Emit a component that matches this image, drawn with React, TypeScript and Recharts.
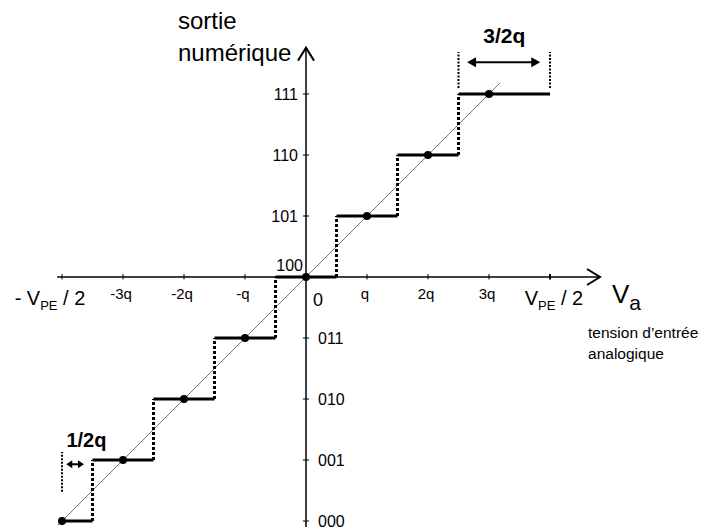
import React from 'react';
import { ComposedChart, XAxis, YAxis, ReferenceLine, Scatter } from 'recharts';

// output codes and their level (in q units, 100 sits on the origin)
const codes = ['000', '001', '010', '011', '100', '101', '110', '111'];
const levels = [-4, -3, -2, -1, 0, 1, 2, 3];
// where each code starts and stops along the input axis (q units)
const stepFrom = [-4, -3.5, -2.5, -1.5, -0.5, 0.5, 1.5, 2.5];
const stepTo = [-3.5, -2.5, -1.5, -0.5, 0.5, 1.5, 2.5, 4];
// input ticks
const xTicks = [-4, -3, -2, -1, 1, 2, 3, 4];
const xTickLabels = ['- VPE / 2', '-3q', '-2q', '-q', 'q', '2q', '3q', 'VPE / 2'];
// ideal line and axis extents
const diagonal = [-4.07, 3.18];
const axisX = [-4.08, 4.82];
const axisY = [-4.1, 3.76];
// dimension marks
const wideMark = { from: 2.5, to: 4, low: 3.1, high: 3.69, arrow: 3.52, tipL: 2.64, tipR: 3.84 };
const halfMark = { at: -4, low: -3.52, high: -2.87, arrow: -3.07, tipL: -3.93, tipR: -3.64 };

const W = 712;
const H = 523;
const Q = 61;
const OX = 298;
const OY = 269;
const XD: [number, number] = [-4.85, 6.5];
const YD: [number, number] = [-4.15, 4.4];
const margin = {
  left: OX + XD[0] * Q,
  right: W - (OX + XD[1] * Q),
  top: OY - YD[1] * Q,
  bottom: H - (OY - YD[0] * Q),
};

const FONT = '"Liberation Sans", Arial, sans-serif';

const seg = (x1: number, y1: number, x2: number, y2: number) => [
  { x: x1, y: y1 },
  { x: x2, y: y2 },
];

function YLabel(p: any) {
  const { cx, cy, payload } = p;
  if (payload.y > 0)
    return (
      <text x={cx - 8} y={cy + 6} textAnchor="end" fontSize={16} fontFamily={FONT}>
        {payload.t}
      </text>
    );
  if (payload.y === 0)
    return (
      <text x={cx - 3} y={cy - 6} textAnchor="end" fontSize={16} fontFamily={FONT}>
        {payload.t}
      </text>
    );
  return (
    <text x={cx + 12} y={cy + 6} textAnchor="start" fontSize={16} fontFamily={FONT}>
      {payload.t}
    </text>
  );
}

function XLabel(p: any) {
  const { cx, cy, payload } = p;
  if (payload.t.includes('VPE')) {
    const neg = payload.x < 0;
    return (
      <text x={cx + (neg ? -12 : 4)} y={cy + 28} textAnchor="middle" fontSize={20} fontFamily={FONT}>
        {neg ? '- V' : 'V'}
        <tspan fontSize={13} dy={5}>PE</tspan>
        <tspan dy={-5}> / 2</tspan>
      </text>
    );
  }
  return (
    <text x={cx - 2} y={cy + 22} textAnchor="middle" fontSize={15} fontFamily={FONT}>
      {payload.t}
    </text>
  );
}

function Dot(p: any) {
  return <circle cx={p.cx} cy={p.cy} r={4} fill="#000" />;
}

const openArrowRight = (p: any) => (
  <path d={`M${p.cx - 13},${p.cy - 8} L${p.cx},${p.cy} L${p.cx - 13},${p.cy + 8}`} fill="none" stroke="#000" strokeWidth={2} />
);
const openArrowUp = (p: any) => (
  <path d={`M${p.cx - 8},${p.cy + 13} L${p.cx},${p.cy} L${p.cx + 8},${p.cy + 13}`} fill="none" stroke="#000" strokeWidth={2} />
);
const headLeft = (len: number, h: number) => (p: any) => (
  <path d={`M${p.cx},${p.cy} L${p.cx + len},${p.cy - h} L${p.cx + len},${p.cy + h} Z`} fill="#000" />
);
const headRight = (len: number, h: number) => (p: any) => (
  <path d={`M${p.cx},${p.cy} L${p.cx - len},${p.cy - h} L${p.cx - len},${p.cy + h} Z`} fill="#000" />
);

function FreeText(p: any) {
  const { cx, cy, payload } = p;
  if (payload.k === 'origin')
    return (
      <text x={cx + 7} y={cy + 29} fontSize={18} fontFamily={FONT}>
        0
      </text>
    );
  if (payload.k === 'va')
    return (
      <text x={cx + 12} y={cy + 26} fontSize={26} fontFamily={FONT}>
        V<tspan fontSize={21} dy={7}>a</tspan>
      </text>
    );
  if (payload.k === 'in')
    return (
      <text x={cx - 12} y={cy + 61} fontSize={15.5} fontFamily={FONT}>
        <tspan x={cx - 12}>tension d’entrée</tspan>
        <tspan x={cx - 12} dy={21}>analogique</tspan>
      </text>
    );
  if (payload.k === 'out')
    return (
      <text x={cx - 128} y={cy - 19} fontSize={24} fontFamily={FONT}>
        <tspan x={cx - 128}>sortie</tspan>
        <tspan x={cx - 128} dy={32}>numérique</tspan>
      </text>
    );
  if (payload.k === 'wide')
    return (
      <text x={cx} y={cy - 9} textAnchor="middle" fontSize={21} fontWeight="bold" fontFamily={FONT}>
        3/2q
      </text>
    );
  return (
    <text x={cx} y={cy - 5} textAnchor="middle" fontSize={20} fontWeight="bold" fontFamily={FONT}>
      1/2q
    </text>
  );
}

export default function App() {
  const samples = levels.map((v) => ({ x: v, y: v }));
  const yLabels = levels.map((v, i) => ({ x: 0, y: v, t: codes[i] }));
  const xLabels = xTicks.map((v, i) => ({ x: v, y: 0, t: xTickLabels[i] }));
  const freeText = [
    { x: 0, y: 0, k: 'origin' },
    { x: axisX[1], y: 0, k: 'va' },
    { x: axisX[1], y: 0, k: 'in' },
    { x: 0, y: axisY[1], k: 'out' },
    { x: (wideMark.from + wideMark.to) / 2, y: wideMark.high, k: 'wide' },
    { x: -3.6, y: halfMark.high, k: 'half' },
  ];

  const common = { ifOverflow: 'visible' as const, isFront: false };

  return (
    <ComposedChart width={W} height={H} margin={margin} data={samples}>
      <XAxis type="number" dataKey="x" domain={XD} allowDataOverflow hide />
      <YAxis type="number" dataKey="y" domain={YD} allowDataOverflow hide />

      {/* axes */}
      <ReferenceLine {...common} segment={seg(axisX[0], 0, axisX[1], 0)} stroke="#000" strokeWidth={1.5} />
      <ReferenceLine {...common} segment={seg(0, axisY[0], 0, axisY[1])} stroke="#000" strokeWidth={1.5} />
      {xTicks.map((v) => (
        <ReferenceLine key={`xt${v}`} {...common} segment={seg(v, 0.05, v, -0.04)} stroke="#000" strokeWidth={v === 4 ? 2 : 1} />
      ))}
      {levels.filter((v) => v !== 0).map((v) => (
        <ReferenceLine key={`yt${v}`} {...common} segment={seg(-0.05, v, 0.05, v)} stroke="#000" strokeWidth={1} />
      ))}

      {/* ideal characteristic */}
      <ReferenceLine {...common} segment={seg(diagonal[0], diagonal[0], diagonal[1], diagonal[1])} stroke="#777" strokeWidth={1} />

      {/* staircase */}
      {levels.map((v, i) => (
        <ReferenceLine key={`h${i}`} {...common} segment={seg(stepFrom[i], v, stepTo[i], v)} stroke="#000" strokeWidth={3} />
      ))}
      {levels.slice(0, -1).map((v, i) => (
        <ReferenceLine
          key={`v${i}`}
          {...common}
          segment={seg(stepTo[i], v, stepTo[i], levels[i + 1])}
          stroke="#000"
          strokeWidth={3}
          strokeDasharray="3 2"
        />
      ))}

      {/* 3/2q mark */}
      <ReferenceLine {...common} segment={seg(wideMark.from, wideMark.low, wideMark.from, wideMark.high)} stroke="#000" strokeWidth={2} strokeDasharray="2 1.5" />
      <ReferenceLine {...common} segment={seg(wideMark.to, wideMark.low, wideMark.to, wideMark.high)} stroke="#000" strokeWidth={2} strokeDasharray="2 1.5" />
      <ReferenceLine {...common} segment={seg(wideMark.tipL + 0.1, wideMark.arrow, wideMark.tipR - 0.1, wideMark.arrow)} stroke="#000" strokeWidth={2} />

      {/* 1/2q mark */}
      <ReferenceLine {...common} segment={seg(halfMark.at, halfMark.low, halfMark.at, halfMark.high)} stroke="#000" strokeWidth={2} strokeDasharray="2 1.5" />
      <ReferenceLine {...common} segment={seg(halfMark.tipL + 0.05, halfMark.arrow, halfMark.tipR - 0.05, halfMark.arrow)} stroke="#000" strokeWidth={2} />

      <Scatter data={[{ x: axisX[1], y: 0 }]} shape={openArrowRight} isAnimationActive={false} />
      <Scatter data={[{ x: 0, y: axisY[1] }]} shape={openArrowUp} isAnimationActive={false} />
      <Scatter data={[{ x: wideMark.tipL, y: wideMark.arrow }]} shape={headLeft(9, 5)} isAnimationActive={false} />
      <Scatter data={[{ x: wideMark.tipR, y: wideMark.arrow }]} shape={headRight(9, 5)} isAnimationActive={false} />
      <Scatter data={[{ x: halfMark.tipL, y: halfMark.arrow }]} shape={headLeft(6, 4)} isAnimationActive={false} />
      <Scatter data={[{ x: halfMark.tipR, y: halfMark.arrow }]} shape={headRight(6, 4)} isAnimationActive={false} />

      <Scatter data={samples} shape={Dot} isAnimationActive={false} />
      <Scatter data={yLabels} shape={YLabel} isAnimationActive={false} />
      <Scatter data={xLabels} shape={XLabel} isAnimationActive={false} />
      <Scatter data={freeText} shape={FreeText} isAnimationActive={false} />
    </ComposedChart>
  );
}
